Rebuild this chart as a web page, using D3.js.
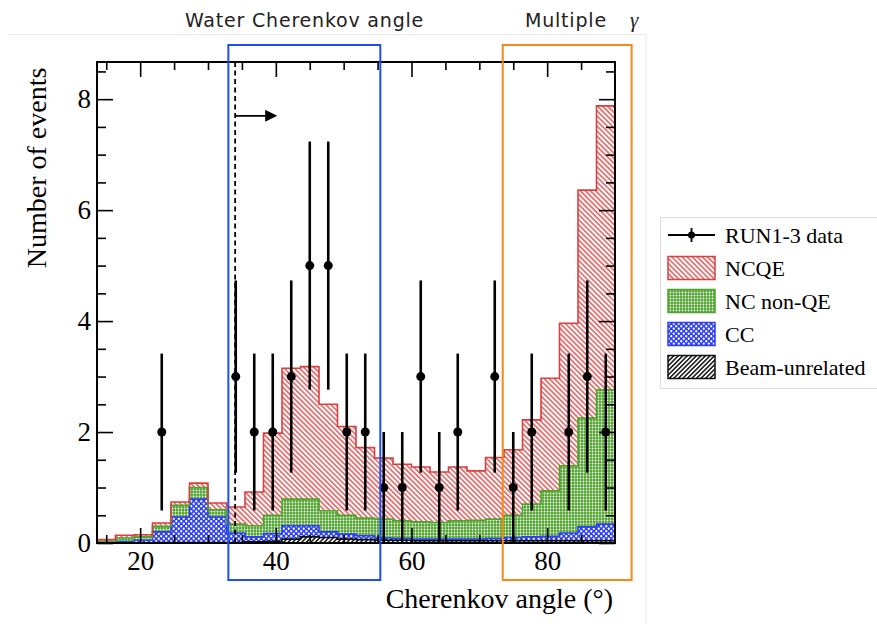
<!DOCTYPE html>
<html>
<head>
<meta charset="utf-8">
<script src="https://cdn.jsdelivr.net/npm/d3@7"></script>
<style>
  body { margin: 0; background: #fff; }
  .serif { font-family: "Liberation Serif", "DejaVu Serif", serif; }
</style>
</head>
<body>
<div id="chart"></div>
<script>
// 33 bins over 0-90 deg; the first 5 lie left of the frame
var binWidth = 90 / 33;
var firstBin = 5;

// events per bin, bins 5..32
var dataCounts    = [0, 0, 0, 2, 0, 0, 0, 3, 2, 2, 3, 5, 5, 2, 2, 1, 1, 3, 1, 2, 0, 3, 1, 2, 0, 2, 3, 2];
var ncqe          = [0.03, 0.05, 0.04, 0.06, 0.06, 0.08, 0.12, 0.31, 0.61, 1.48, 2.36, 2.39, 1.92, 1.60, 1.27, 1.10, 1.02, 0.99, 0.91, 0.97, 0.89, 1.11, 1.18, 1.52, 2.03, 2.57, 4.11, 5.12];
var ncNonQE       = [0.02, 0.07, 0.06, 0.10, 0.21, 0.21, 0.13, 0.16, 0.20, 0.33, 0.48, 0.48, 0.38, 0.34, 0.32, 0.34, 0.32, 0.31, 0.30, 0.33, 0.34, 0.35, 0.40, 0.59, 0.82, 1.21, 1.96, 2.42];
var cc            = [0.01, 0.02, 0.05, 0.19, 0.46, 0.78, 0.46, 0.17, 0.09, 0.14, 0.24, 0.20, 0.10, 0.09, 0.07, 0.04, 0.03, 0.03, 0.03, 0.03, 0.03, 0.04, 0.06, 0.07, 0.08, 0.14, 0.25, 0.30];
var beamUnrelated = [0.00, 0.00, 0.00, 0.01, 0.01, 0.01, 0.01, 0.01, 0.02, 0.03, 0.07, 0.11, 0.10, 0.07, 0.06, 0.05, 0.05, 0.04, 0.04, 0.04, 0.04, 0.04, 0.04, 0.04, 0.04, 0.04, 0.04, 0.04];

var xTicksMajor = [20, 40, 60, 80];
var xTicksMinor = [15, 25, 30, 35, 45, 50, 55, 65, 70, 75, 85];
var yTicksMajor = [0, 2, 4, 6, 8];
var yTicksMinor = [0.5, 1, 1.5, 2.5, 3, 3.5, 4.5, 5, 5.5, 6.5, 7, 7.5, 8.5];

var legendLabels = ["RUN1-3 data", "NCQE", "NC non-QE", "CC", "Beam-unrelated"];

var cutAngle = 34;

var W = 877, H = 624;
var plot = {left: 97, right: 615, top: 62, bottom: 543};

var svg = d3.select("#chart").append("svg")
    .attr("width", W)
    .attr("height", H);

var x = d3.scaleLinear()
    .domain([firstBin * binWidth, 90])
    .range([plot.left, plot.right]);
var y = d3.scaleLinear()
    .domain([0, 8.67])
    .range([plot.bottom, plot.top]);

// ---------- fill patterns ----------
var defs = svg.append("defs");

function hatch(id, color, angle, gap, lw) {
  var p = defs.append("pattern")
      .attr("id", id)
      .attr("patternUnits", "userSpaceOnUse")
      .attr("width", gap).attr("height", gap)
      .attr("patternTransform", "rotate(" + angle + ")");
  p.append("rect").attr("width", gap).attr("height", gap).attr("fill", "#fff");
  p.append("line")
      .attr("x1", gap / 2).attr("y1", 0)
      .attr("x2", gap / 2).attr("y2", gap)
      .attr("stroke", color).attr("stroke-width", lw);
}
hatch("hatchRed", "#d94040", -45, 3.6, 1.3);
hatch("hatchBlack", "#111", 45, 3.2, 1.5);

var pg = defs.append("pattern")
    .attr("id", "dotsGreen")
    .attr("patternUnits", "userSpaceOnUse")
    .attr("width", 3).attr("height", 3);
pg.append("rect").attr("width", 3).attr("height", 3).attr("fill", "#4ea52c");
pg.append("circle").attr("cx", 1.5).attr("cy", 1.5).attr("r", 0.9).attr("fill", "#fff");

var pb = defs.append("pattern")
    .attr("id", "dotsBlue")
    .attr("patternUnits", "userSpaceOnUse")
    .attr("width", 5).attr("height", 5);
pb.append("rect").attr("width", 5).attr("height", 5).attr("fill", "#2d3ff0");
pb.append("circle").attr("cx", 1.25).attr("cy", 1.25).attr("r", 1.15).attr("fill", "#fff");
pb.append("circle").attr("cx", 3.75).attr("cy", 3.75).attr("r", 1.15).attr("fill", "#fff");

defs.append("clipPath").attr("id", "plotClip")
  .append("rect")
    .attr("x", plot.left).attr("y", plot.top)
    .attr("width", plot.right - plot.left)
    .attr("height", plot.bottom - plot.top);

// ---------- page decoration (embedded picture edge) ----------
svg.append("line")
    .attr("x1", 8).attr("x2", 646).attr("y1", 34.5).attr("y2", 34.5)
    .attr("stroke", "#e6e6e6");
svg.append("line")
    .attr("x1", 646).attr("x2", 646).attr("y1", 34.5).attr("y2", H)
    .attr("stroke", "#e6e6e6");

// ---------- stacked histogram ----------
var rows = dataCounts.map(function(d, i) {
  return {
    lo: (firstBin + i) * binWidth,
    hi: (firstBin + i + 1) * binWidth,
    beam: beamUnrelated[i], cc: cc[i], nonqe: ncNonQE[i], ncqe: ncqe[i]
  };
});

var keys = ["beam", "cc", "nonqe", "ncqe"];
var fills = {beam: "url(#hatchBlack)", cc: "url(#dotsBlue)", nonqe: "url(#dotsGreen)", ncqe: "url(#hatchRed)"};
var lines = {beam: "#111", cc: "#2d3ff0", nonqe: "#4ea52c", ncqe: "#d94040"};

var layers = d3.stack().keys(keys)(rows);

function steps(layer) {
  var pts = [];
  layer.forEach(function(d) {
    pts.push({x: d.data.lo, y0: d[0], y1: d[1]});
    pts.push({x: d.data.hi, y0: d[0], y1: d[1]});
  });
  return pts;
}

var area = d3.area()
    .x(function(d) { return x(d.x); })
    .y0(function(d) { return y(d.y0); })
    .y1(function(d) { return y(d.y1); });
var topLine = d3.line()
    .x(function(d) { return x(d.x); })
    .y(function(d) { return y(d.y1); });

var hist = svg.append("g").attr("clip-path", "url(#plotClip)");

hist.selectAll("path.band")
    .data(layers)
  .enter().append("path")
    .attr("class", "band")
    .attr("d", function(l) { return area(steps(l)); })
    .attr("fill", function(l) { return fills[l.key]; })
    .attr("stroke", "none");

hist.selectAll("path.edge")
    .data(layers)
  .enter().append("path")
    .attr("class", "edge")
    .attr("d", function(l) { return topLine(steps(l)); })
    .attr("fill", "none")
    .attr("stroke", function(l) { return lines[l.key]; })
    .attr("stroke-width", 1.6);

// ---------- data points ----------
var pts = rows.map(function(r, i) { return {x: (r.lo + r.hi) / 2, n: dataCounts[i]}; })
    .filter(function(d) { return d.n > 0; });

var pg2 = svg.append("g");
pg2.selectAll("line.err")
    .data(pts)
  .enter().append("line")
    .attr("class", "err")
    .attr("x1", function(d) { return x(d.x); })
    .attr("x2", function(d) { return x(d.x); })
    .attr("y1", function(d) { return y(d.n - Math.sqrt(d.n)); })
    .attr("y2", function(d) { return y(d.n + Math.sqrt(d.n)); })
    .attr("stroke", "#000")
    .attr("stroke-width", 2.6);
pg2.selectAll("circle")
    .data(pts)
  .enter().append("circle")
    .attr("cx", function(d) { return x(d.x); })
    .attr("cy", function(d) { return y(d.n); })
    .attr("r", 4.5)
    .attr("fill", "#000");

// ---------- cut line and arrow ----------
svg.append("line")
    .attr("x1", x(cutAngle)).attr("x2", x(cutAngle))
    .attr("y1", plot.top).attr("y2", plot.bottom)
    .attr("stroke", "#000").attr("stroke-width", 1.8)
    .attr("stroke-dasharray", "5,3.5");
svg.append("line")
    .attr("x1", x(cutAngle)).attr("x2", x(cutAngle + 5.2))
    .attr("y1", y(7.7)).attr("y2", y(7.7))
    .attr("stroke", "#000").attr("stroke-width", 1.8);
svg.append("path")
    .attr("d", "M" + x(cutAngle + 6.2) + "," + y(7.7) +
               "l-12,-6 l0,12 z")
    .attr("fill", "#000");

// ---------- axes ----------
function styleAxis(g) {
  g.select(".domain").remove();
  g.selectAll(".tick line").attr("stroke", "#000").attr("stroke-width", 1.6);
  g.selectAll(".tick text")
      .attr("class", "serif")
      .attr("font-size", 27)
      .attr("fill", "#000");
}

svg.append("g").attr("transform", "translate(0," + plot.bottom + ")")
    .call(d3.axisBottom(x).tickValues(xTicksMajor).tickSize(-15).tickPadding(8).tickFormat(d3.format("d")))
    .call(styleAxis);
svg.append("g").attr("transform", "translate(0," + plot.bottom + ")")
    .call(d3.axisBottom(x).tickValues(xTicksMinor).tickSize(-8).tickFormat(""))
    .call(styleAxis);
svg.append("g").attr("transform", "translate(0," + plot.top + ")")
    .call(d3.axisTop(x).tickValues(xTicksMajor).tickSize(-15).tickFormat(""))
    .call(styleAxis);
svg.append("g").attr("transform", "translate(0," + plot.top + ")")
    .call(d3.axisTop(x).tickValues(xTicksMinor).tickSize(-8).tickFormat(""))
    .call(styleAxis);

svg.append("g").attr("transform", "translate(" + plot.left + ",0)")
    .call(d3.axisLeft(y).tickValues(yTicksMajor).tickSize(-16).tickPadding(6).tickFormat(d3.format("d")))
    .call(styleAxis);
svg.append("g").attr("transform", "translate(" + plot.left + ",0)")
    .call(d3.axisLeft(y).tickValues(yTicksMinor).tickSize(-9).tickFormat(""))
    .call(styleAxis);
svg.append("g").attr("transform", "translate(" + plot.right + ",0)")
    .call(d3.axisRight(y).tickValues(yTicksMajor).tickSize(-16).tickFormat(""))
    .call(styleAxis);
svg.append("g").attr("transform", "translate(" + plot.right + ",0)")
    .call(d3.axisRight(y).tickValues(yTicksMinor).tickSize(-9).tickFormat(""))
    .call(styleAxis);

svg.append("rect")
    .attr("x", plot.left).attr("y", plot.top)
    .attr("width", plot.right - plot.left)
    .attr("height", plot.bottom - plot.top)
    .attr("fill", "none")
    .attr("stroke", "#000")
    .attr("stroke-width", 2);

// axis titles
svg.append("text")
    .attr("class", "serif")
    .attr("transform", "translate(46,168) rotate(-90)")
    .attr("text-anchor", "middle")
    .attr("font-size", 28)
    .text("Number of events");
svg.append("text")
    .attr("class", "serif")
    .attr("x", 613).attr("y", 608)
    .attr("text-anchor", "end")
    .attr("font-size", 28)
    .text("Cherenkov angle (°)");

// ---------- highlight boxes ----------
var boxTop = 45, boxBottom = 580;
svg.append("rect")
    .attr("x", x(33.0)).attr("y", boxTop)
    .attr("width", x(55.4) - x(33.0)).attr("height", boxBottom - boxTop)
    .attr("fill", "none").attr("stroke", "#1f4ef5").attr("stroke-width", 2);
svg.append("rect")
    .attr("x", x(73.45)).attr("y", boxTop)
    .attr("width", x(92.45) - x(73.45)).attr("height", boxBottom - boxTop)
    .attr("fill", "none").attr("stroke", "#f28a1c").attr("stroke-width", 2);

var sansTop = "'DejaVu Sans', 'Noto Sans', sans-serif";
svg.append("text")
    .attr("x", 185).attr("y", 27)
    .attr("font-family", sansTop)
    .attr("font-size", 19)
    .attr("letter-spacing", 0.8)
    .attr("fill", "#222")
    .text("Water Cherenkov angle");
svg.append("text")
    .attr("x", 525).attr("y", 27)
    .attr("font-family", sansTop)
    .attr("font-size", 19)
    .attr("letter-spacing", 0.8)
    .attr("fill", "#222")
    .text("Multiple");
svg.append("text")
    .attr("x", 630).attr("y", 27)
    .attr("font-family", "'Liberation Serif', serif")
    .attr("font-style", "italic")
    .attr("font-size", 21)
    .attr("fill", "#222")
    .text("γ");

// ---------- legend ----------
var leg = svg.append("g");
leg.append("rect")
    .attr("x", 660.5).attr("y", 217.5)
    .attr("width", 240).attr("height", 171)
    .attr("fill", "#fff").attr("stroke", "#dedede");

var legFills = [null, "url(#hatchRed)", "url(#dotsGreen)", "url(#dotsBlue)", "url(#hatchBlack)"];
var legEdges = [null, "#d94040", "#4ea52c", "#2d3ff0", "#111"];
var rowY = d3.scaleLinear().domain([0, 4]).range([235, 367]);

legendLabels.forEach(function(label, i) {
  var cy = rowY(i);
  if (i === 0) {
    leg.append("line").attr("x1", 668).attr("x2", 715).attr("y1", cy).attr("y2", cy)
        .attr("stroke", "#000").attr("stroke-width", 1.8);
    leg.append("line").attr("x1", 691.5).attr("x2", 691.5).attr("y1", cy - 7).attr("y2", cy + 7)
        .attr("stroke", "#000").attr("stroke-width", 1.8);
    leg.append("circle").attr("cx", 691.5).attr("cy", cy).attr("r", 3.5).attr("fill", "#000");
  } else {
    leg.append("rect")
        .attr("x", 668).attr("y", cy - 11.5)
        .attr("width", 47).attr("height", 23)
        .attr("fill", legFills[i])
        .attr("stroke", legEdges[i]).attr("stroke-width", 1.5);
  }
  leg.append("text")
      .attr("class", "serif")
      .attr("x", 725).attr("y", cy + 8)
      .attr("font-size", 22)
      .text(label);
});
</script>
</body>
</html>
